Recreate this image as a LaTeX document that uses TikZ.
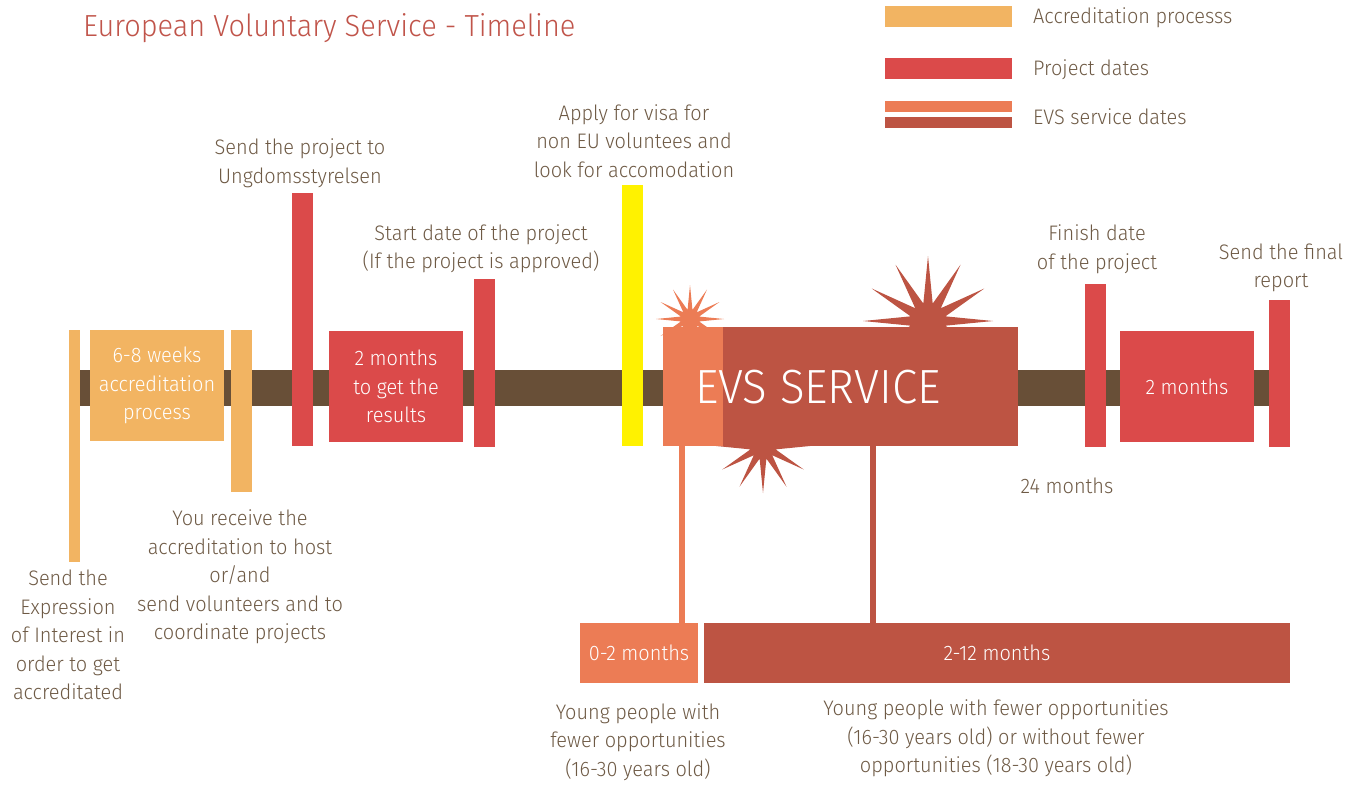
\documentclass[tikz,border=0pt]{standalone}
\usepackage{fontspec}
\setmainfont{Fira Sans Light}[FakeStretch=0.95]
\usetikzlibrary{shapes.geometric}

\definecolor{accOrange}{HTML}{F2B462}
\definecolor{projRed}{HTML}{DB4A4A}
\definecolor{evsLight}{HTML}{EC7C55}
\definecolor{evsDark}{HTML}{BD5443}
\definecolor{lineBrown}{HTML}{684F37}
\definecolor{visaYellow}{HTML}{FFF200}
\definecolor{txtBrown}{HTML}{6E5A45}
\definecolor{titleRed}{HTML}{C0544A}

\tikzset{
  block/.style={fill=#1, inner sep=0pt, outer sep=0pt, text=white, align=center,
    font=\fontsize{21}{28.5}\selectfont},
  note/.style={text=txtBrown, align=center, inner sep=0pt,
    font=\fontsize{21}{28.5}\selectfont},
  burst/.style={star, star points=12, star point ratio=3.6, fill=#1, inner sep=0pt}
}

\begin{document}
\begin{tikzpicture}[x=1pt,y=-1pt]
  \useasboundingbox (0,0) rectangle (1359,785);

  % title and legend
  \node[text=titleRed, anchor=west, inner sep=0pt, font=\fontsize{30.5}{36}\selectfont] (title) at (83,28) {European Voluntary Service - Timeline};
  \node[block=accOrange, minimum width=127, minimum height=21] (legacc) at (948.5,16.5) {};
  \node[block=projRed, minimum width=127, minimum height=21] (legproj) at (948.5,68.5) {};
  \node[block=evsLight, minimum width=127, minimum height=11] (legevsA) at (948.5,106.5) {};
  \node[block=evsDark, minimum width=127, minimum height=11] (legevsB) at (948.5,122.5) {};
  \node[note, anchor=west] (legacctxt) at (1033,18) {Accreditation processs};
  \node[note, anchor=west] (legprojtxt) at (1033,70) {Project dates};
  \node[note, anchor=west] (legevstxt) at (1033,117) {EVS service dates};

  % the time line
  \node[block=lineBrown, minimum width=1190, minimum height=36] (timeline) at (675,388) {};

  % bursts round the service
  \node[burst=evsLight, minimum size=68] (burstA) at (690,319) {};
  \node[burst=evsDark, minimum size=130] (burstB) at (928,321) {};
  \node[burst=evsDark, minimum size=94] (burstC) at (763,446) {};

  % accreditation
  \node[block=accOrange, minimum width=11, minimum height=232] (expr) at (74.5,446) {};
  \node[block=accOrange, minimum width=134, minimum height=111] (accbox) at (157,385.5) {6-8 weeks\\accreditation\\process};
  \node[block=accOrange, minimum width=21, minimum height=162] (receive) at (241.5,411) {};

  % project dates
  \node[block=projRed, minimum width=21, minimum height=253] (sendproj) at (302.5,319.5) {};
  \node[block=projRed, minimum width=134, minimum height=111] (results) at (396,386.5) {2 months\\to get the\\results};
  \node[block=projRed, minimum width=21, minimum height=168] (start) at (484.5,363) {};
  \node[block=visaYellow, minimum width=21, minimum height=261] (visa) at (632.5,315.5) {};
  \node[block=projRed, minimum width=21, minimum height=163] (finish) at (1095.5,365.5) {};
  \node[block=projRed, minimum width=134, minimum height=111] (report) at (1187,386.5) {2 months};
  \node[block=projRed, minimum width=21, minimum height=147] (final) at (1279.5,373.5) {};

  % EVS service
  \node[block=evsLight, minimum width=60, minimum height=119] (evsA) at (693,386.5) {};
  \node[block=evsDark, minimum width=295, minimum height=119] (evsB) at (870.5,386.5) {};
  \node[text=white, inner sep=0pt, font=\fontsize{48}{52}\selectfont] (evstxt) at (818,387) {EVS SERVICE};

  \node[block=evsLight, minimum width=118, minimum height=60] (short) at (639,653) {0-2 months};
  \node[block=evsDark, minimum width=586, minimum height=60] (long) at (997,653) {2-12 months};

  \coordinate (linkA) at (682,0);
  \coordinate (linkB) at (873,0);
  \draw[evsLight, line width=6pt] (evsA.south -| linkA) -- (short.north -| linkA);
  \draw[evsDark, line width=6pt] (evsB.south -| linkB) -- (long.north -| linkB);

  % texts
  \node[note] (sendtxt) at (300,163) {Send the project to\\Ungdomsstyrelsen};
  \node[note] (starttxt) at (481,248.5) {Start date of the project\\(If the project is approved)};
  \node[note] (visatxt) at (634,141) {Apply for visa for\\non EU voluntees and\\look for accomodation};
  \node[note] (finishtxt) at (1097,249) {Finish date\\of the project};
  \node[note] (finaltxt) at (1281,268) {Send the final\\report};
  \node[note] (totaltxt) at (1067,486) {24 months};
  \node[note] (receivetxt) at (240,577) {You receive the\\accreditation to host\\or/and\\send volunteers and to\\coordinate projects};
  \node[note] (exprtxt) at (68,635) {Send the\\Expression\\of Interest in\\order to get\\accreditated};
  \node[note] (shorttxt) at (638,742) {Young people with\\fewer opportunities\\(16-30 years old)};
  \node[note] (longtxt) at (996,738.5) {Young people with fewer opportunities\\(16-30 years old) or without fewer\\opportunities (18-30 years old)};
\end{tikzpicture}
\end{document}
